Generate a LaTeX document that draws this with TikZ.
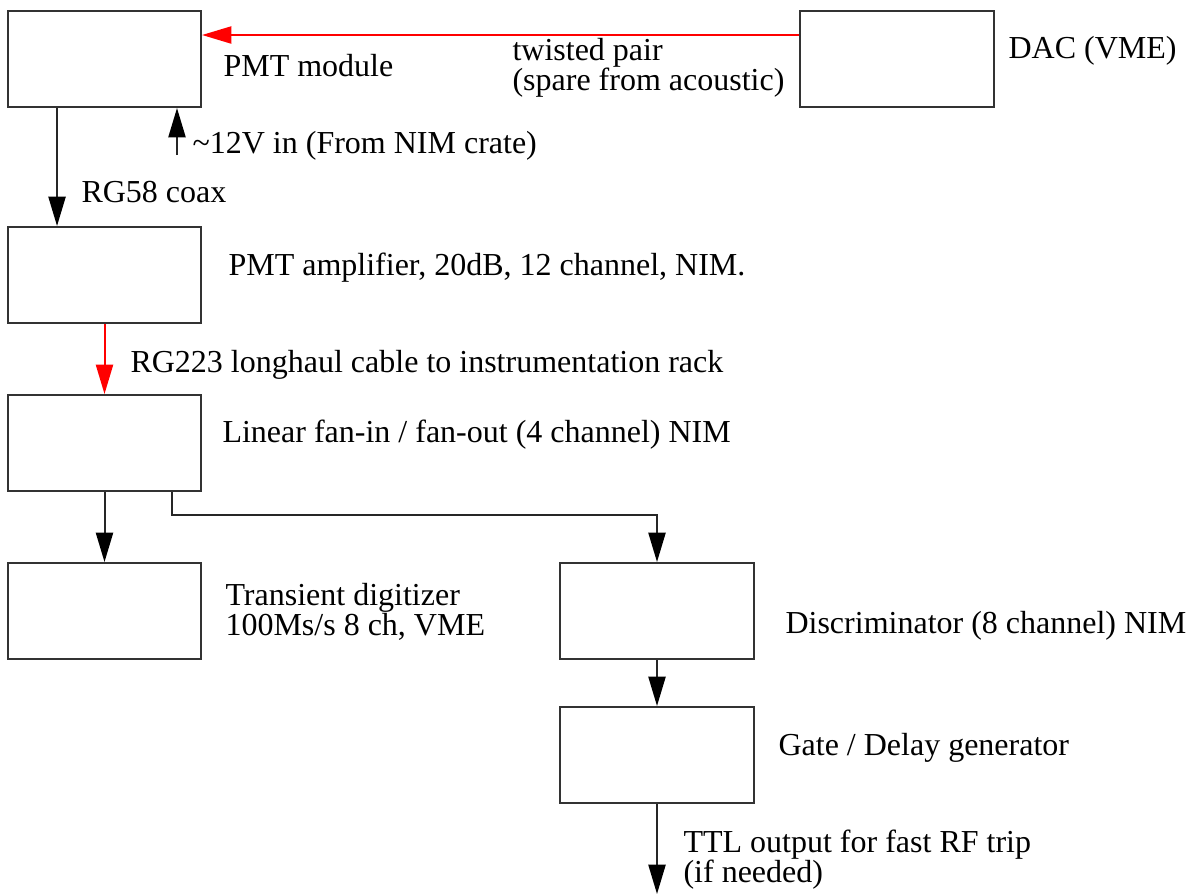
\documentclass[tikz,border=0pt]{standalone}
\usepackage{fontspec}
\setmainfont{LiberationSerif}[Extension=.ttf,UprightFont=*-Regular,BoldFont=*-Bold,ItalicFont=*-Italic,BoldItalicFont=*-BoldItalic]
\usetikzlibrary{arrows.meta}

\begin{document}
\begin{tikzpicture}[x=0.375pt,y=-0.375pt,
        box/.style={draw=black!80,line width=0.75pt,minimum width=72.4pt,minimum height=36pt,inner sep=0pt},
        lbl/.style={anchor=base west,inner sep=0pt,align=left,font=\fontsize{12pt}{11.25pt}\selectfont},
        wire/.style={line width=0.75pt,draw=black!85,-{Triangle[length=11pt,width=6.4pt,black]}},
        redwire/.style={line width=0.75pt,draw=red,-{Triangle[length=11pt,width=6.4pt,red]}}]
    \useasboundingbox (0,0) rectangle (1193,894);

    % boxes
    \node[box] (pmt) at (104.5, 59) {};
    \node[box] (dac) at (897, 59) {};
    \node[box] (amp) at (104.5, 275) {};
    \node[box] (fan) at (104.5, 443) {};
    \node[box] (dig) at (104.5, 611) {};
    \node[box] (disc) at (657, 611) {};
    \node[box] (gate) at (657, 755) {};

    % labels (base = last line)
    \node[lbl] (pmtlbl) at (223, 76) {PMT module};
    \node[lbl] (tplbl) at (512, 90) {twisted pair\\(spare from acoustic)};
    \node[lbl] (daclbl) at (1008, 58) {DAC (VME)};
    \node[lbl] (vinlbl) at (192, 153) {\char"007E 12V in (From NIM crate)};
    \node[lbl] (coaxlbl) at (81, 202) {RG58 coax};
    \node[lbl] (amplbl) at (228, 275) {PMT amplifier, 20dB, 12 channel, NIM.};
    \node[lbl] (haullbl) at (130, 372) {RG223 longhaul cable to instrumentation rack};
    \node[lbl] (fanlbl) at (222, 442) {Linear fan-in / fan-out (4 channel) NIM};
    \node[lbl] (diglbl) at (225, 635) {Transient digitizer\\100Ms/s 8 ch, VME};
    \node[lbl] (disclbl) at (785, 633) {Discriminator (8 channel) NIM};
    \node[lbl] (gatelbl) at (778, 755) {Gate / Delay generator};
    \node[lbl] (ttllbl) at (683, 882) {TTL output for fast RF trip\\(if needed)};

    \coordinate (vin) at (177, 155);
    \coordinate (split) at (172, 515);
    \coordinate (out) at (657, 894);

    % connectors
    \draw[redwire] ([yshift=9pt]dac.west) -- ([yshift=9pt]pmt.east);
    \draw[wire] ([xshift=-17.8pt]pmt.south) -- ([xshift=-17.8pt]amp.north);
    \draw[wire] (vin) -- (vin |- pmt.south);
    \draw[redwire] (amp.south) -- (fan.north);
    \draw[wire] (fan.south) -- (dig.north);
    \draw[wire] (fan.south -| split) -- (split) -| (disc.north);
    \draw[wire] (disc.south) -- (gate.north);
    \draw[wire] (gate.south) -- (out);
\end{tikzpicture}
\end{document}
